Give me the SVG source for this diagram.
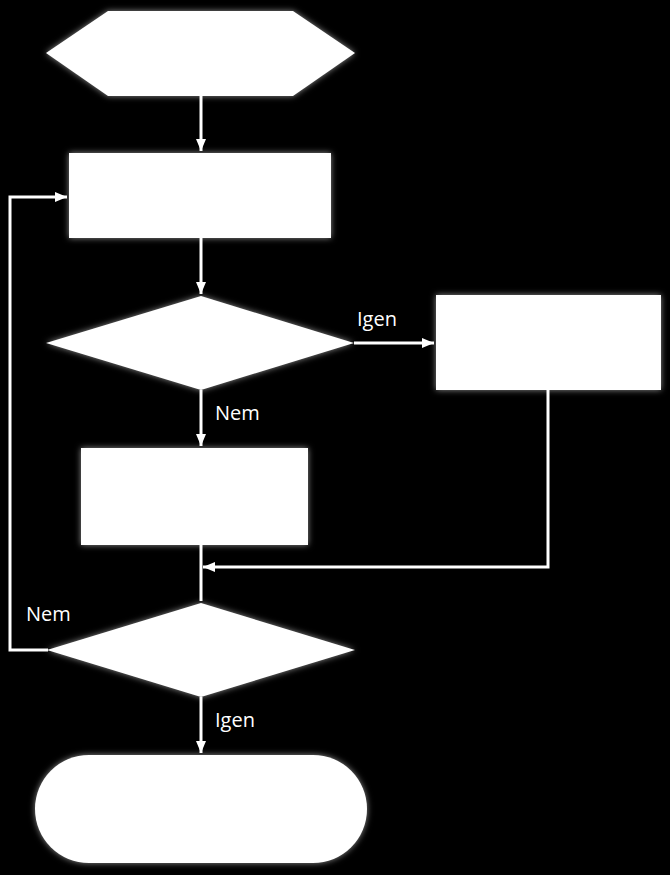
<svg xmlns="http://www.w3.org/2000/svg" width="670" height="875" viewBox="0 0 670 875">
<defs>
<filter id="glow" x="-20%" y="-20%" width="140%" height="140%">
<feGaussianBlur in="SourceAlpha" stdDeviation="3" result="b"/>
<feFlood flood-color="#ffffff" flood-opacity="0.55"/>
<feComposite in2="b" operator="in" result="g"/>
<feMerge><feMergeNode in="g"/><feMergeNode in="SourceGraphic"/></feMerge>
</filter>
<marker id="arr" viewBox="0 0 12 10" refX="12" refY="5" markerWidth="12" markerHeight="10" markerUnits="userSpaceOnUse" orient="auto">
<path d="M0,0 L12,5 L0,10 Z" fill="#ffffff"/>
</marker>
<style>
.shape{fill:#ffffff;filter:url(#glow);}
.conn{fill:none;stroke:#ffffff;stroke-width:3;}
.lbl{font-family:"Open Sans","DejaVu Sans",sans-serif;font-size:20px;fill:#ffffff;}
</style>
</defs>
<rect x="0" y="0" width="670" height="875" fill="#000000"/>
<g id="connectors">
<path class="conn" d="M201,96 V151" marker-end="url(#arr)"/>
<path class="conn" d="M201,238 V294" marker-end="url(#arr)"/>
<path class="conn" d="M354,343 H434" marker-end="url(#arr)"/>
<path class="conn" d="M201,390 V446" marker-end="url(#arr)"/>
<path class="conn" d="M201,545 V601"/>
<path class="conn" d="M548,390 V567 H203" marker-end="url(#arr)"/>
<path class="conn" d="M48,650 H10 V197 H67" marker-end="url(#arr)"/>
<path class="conn" d="M201,697 V753" marker-end="url(#arr)"/>
<text class="lbl" x="357" y="326">Igen</text>
<text class="lbl" x="215" y="420">Nem</text>
<text class="lbl" x="26" y="621">Nem</text>
<text class="lbl" x="215" y="727">Igen</text>
</g>
<g id="start"><polygon class="shape" points="108,11 293,11 355,53 293,96 108,96 46,53"/></g>
<g id="process1"><rect class="shape" x="69" y="153" width="262" height="85"/></g>
<g id="decision1"><polygon class="shape" points="201,296 354,343 201,390 46,343"/></g>
<g id="process-yes"><rect class="shape" x="436" y="295" width="225" height="95"/></g>
<g id="process-no"><rect class="shape" x="81" y="448" width="227" height="97"/></g>
<g id="decision2"><polygon class="shape" points="201,603 355,650 201,697 47,650"/></g>
<g id="end"><rect class="shape" x="35" y="755" width="332" height="108" rx="54" ry="54"/></g>
</svg>
